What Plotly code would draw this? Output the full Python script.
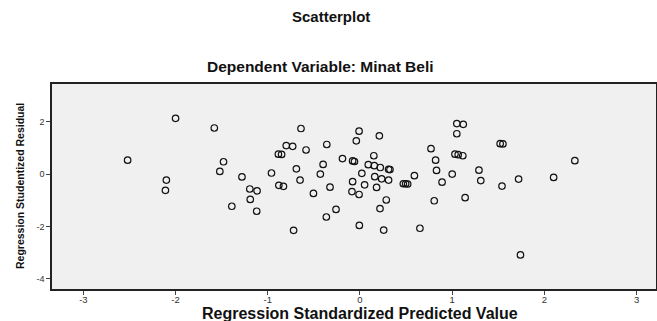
import plotly.graph_objects as go

predicted = [-2.52, -2.00, -2.10, -2.11, -1.58, -1.48, -1.52, -1.28, -1.195, -1.116,
             -1.19, -1.39, -1.12, -0.96, -0.885, -0.85, -0.80, -0.88, -0.83, -0.73,
             -0.64, -0.585, -0.69, -0.65, -0.72, -0.505, -0.43, -0.40, -0.36, -0.325,
             -0.26, -0.365, -0.19, -0.08, -0.06, -0.04, -0.01, 0.02, -0.08, -0.087,
             -0.01, -0.007, 0.05, 0.09, 0.155, 0.22, 0.31, 0.325, 0.15, 0.21,
             0.16, 0.235, 0.31, 0.18, 0.285, 0.217, 0.257, 0.47, 0.495, 0.517,
             0.59, 0.65, 0.77, 0.82, 0.83, 0.805, 0.89, 1.00, 1.03, 1.065,
             1.115, 1.05, 1.12, 1.05, 1.14, 1.29, 1.31, 1.52, 1.55, 1.54,
             1.72, 1.74, 2.10, 2.33]
residual = [0.53, 2.13, -0.23, -0.62, 1.76, 0.47, 0.10, -0.11, -0.57, -0.64,
            -0.97, -1.23, -1.42, 0.04, 0.76, 0.75, 1.09, -0.43, -0.47, 1.06,
            1.74, 0.92, 0.20, -0.23, -2.15, -0.74, 0.00, 0.37, 1.13, -0.50,
            -1.35, -1.64, 0.59, 0.50, 0.48, 1.27, 1.64, 0.03, -0.29, -0.67,
            -0.78, -1.96, -0.41, 0.36, 0.32, 0.25, 0.18, 0.17, 0.70, 1.46,
            -0.10, -0.18, -0.23, -0.51, -0.99, -1.32, -2.14, -0.37, -0.37, -0.38,
            -0.06, -2.07, 0.97, 0.53, 0.14, -1.02, -0.31, 0.00, 0.76, 0.74,
            0.70, 1.93, 1.90, 1.54, -0.90, 0.15, -0.25, 1.16, 1.15, -0.46,
            -0.19, -3.09, -0.13, 0.51]

x_ticks = [-3, -2, -1, 0, 1, 2, 3]
y_ticks = [-4, -2, 0, 2]

FONT = "Liberation Sans, Arial, sans-serif"

# plot area in pixels
L, R, T, B = 52, 656, 84, 289
W, H = 657, 321


def px_x(p):
    return (p - L) / (R - L)


def px_y(p):
    return (B - p) / (B - T)


fig = go.Figure()
fig.add_trace(go.Scatter(
    x=predicted, y=residual, mode="markers",
    marker=dict(symbol="circle-open", size=6.5, color="#111111",
                line=dict(width=1.2, color="#111111")),
    showlegend=False, hoverinfo="x+y",
))

fig.update_layout(
    width=W, height=H,
    margin=dict(l=L, r=W - R, t=T, b=H - B, autoexpand=False),
    paper_bgcolor="white",
    plot_bgcolor="#f0f0f0",
    font=dict(family=FONT, color="#222222"),
    annotations=[
        dict(text="<b>Scatterplot</b>", xref="paper", yref="paper",
             x=px_x(331), y=px_y(17), xanchor="center", yanchor="middle",
             showarrow=False, font=dict(size=15, family=FONT, color="#111111")),
        dict(text="<b>Dependent Variable: Minat Beli</b>", xref="paper", yref="paper",
             x=px_x(320), y=px_y(67), xanchor="center", yanchor="middle",
             showarrow=False, font=dict(size=15.5, family=FONT, color="#111111")),
        dict(text="<b>Regression Standardized Predicted Value</b>", xref="paper", yref="paper",
             x=px_x(360), y=px_y(313), xanchor="center", yanchor="middle",
             showarrow=False, font=dict(size=16, family=FONT, color="#111111")),
        dict(text="<b>Regression Studentized Residual</b>", xref="paper", yref="paper",
             x=px_x(20), y=px_y(186), xanchor="center", yanchor="middle", textangle=-90,
             showarrow=False, font=dict(size=10.5, family=FONT, color="#111111")),
    ],
    xaxis=dict(
        range=[-3.34, 3.21], tickvals=x_ticks, ticktext=[str(v) for v in x_ticks],
        showgrid=False, zeroline=False, showline=True, linecolor="#222222", linewidth=1.5,
        mirror=True, ticks="outside", ticklen=4, tickcolor="#444444", automargin=False,
        ticklabelstandoff=-3,
        tickfont=dict(size=9.5, color="#333333", family=FONT),
    ),
    yaxis=dict(
        range=[-4.39, 3.44], tickvals=y_ticks, ticktext=[str(v) for v in y_ticks],
        showgrid=False, zeroline=False, showline=True, linecolor="#222222", linewidth=1.5,
        mirror=True, ticks="outside", ticklen=4, tickcolor="#444444", automargin=False,
        tickfont=dict(size=9, color="#333333", family=FONT),
    ),
)

fig.write_html(
    "out.html",
    config={"displayModeBar": False},
    post_script="document.body.style.margin='0';document.body.style.padding='0';"
                "document.body.style.overflow='hidden';",
)
